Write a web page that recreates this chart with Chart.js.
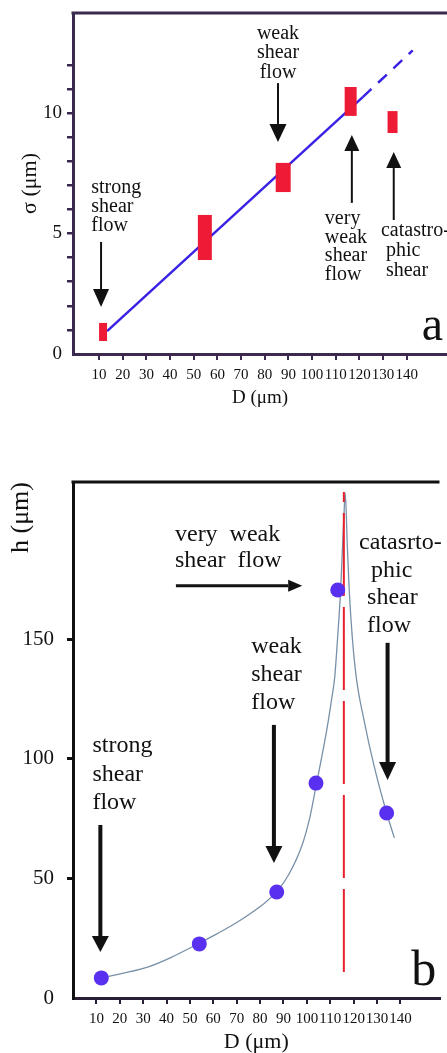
<!DOCTYPE html>
<html>
<head>
<meta charset="utf-8">
<script src="https://cdn.jsdelivr.net/npm/chart.js@4.4.1/dist/chart.umd.min.js"></script>
<style>
  body { margin: 0; background: #fff; width: 447px; height: 1053px; overflow: hidden; }
  .box { position: absolute; left: 0; width: 447px; }
</style>
</head>
<body>
<div class="box" style="top:0;height:420px"><canvas id="sigma-chart"></canvas></div>
<div class="box" style="top:440px;height:613px"><canvas id="h-chart"></canvas></div>
<script>
// shared x ticks (D, um)
const dTicks = [10, 20, 30, 40, 50, 60, 70, 80, 90, 100, 110, 120, 130, 140];

// (a) sigma vs D -- red bars are the measured spread
const sigmaD = [11.7, 54.7, 87.8, 116.3, 134.0];
const sigmaLow = [0.54, 3.9, 6.72, 9.88, 9.17];
const sigmaHigh = [1.29, 5.77, 7.93, 11.08, 10.08];
const sigmaFitD = [13.4, 121.4];
const sigmaFitY = [0.95, 10.66];
const sigmaExtD = [121.4, 142.5];
const sigmaExtY = [10.66, 12.6];
const sigmaTicks = [0, 1, 2, 3, 4, 5, 6, 7, 8, 9, 10, 11, 12];

// (b) h vs D
const hD = [12.1, 54.0, 87.1, 103.9, 113.2, 134.1];
const hVal = [8.4, 22.6, 44.3, 89.8, 170.5, 77.3];
// fitted curve
const curveD = [12.1, 32.2, 42.0, 53.2, 61.5, 71.2, 81.3, 86.7, 92.2, 98.0, 101.4, 103.9, 106.4, 108.5, 110.6,
                111.9, 113.1, 114.4, 115.2, 116.0, 116.4, 117.3, 118.1, 119.4, 121.1, 124.4, 128.6, 134.1, 137.4];
const curveH = [8.4, 13.0, 17.0, 22.5, 26.8, 32.3, 39.2, 44.0, 51.5, 64.0, 76.0, 88.5, 101.0, 112.0, 125.0,
                134.0, 150.0, 170.0, 188.0, 205.0, 211.0, 188.5, 170.5, 150.9, 134.1, 116.2, 97.5, 77.3, 66.9];
const peakD = [115.8, 115.8];
const peakH = [10.9, 211.4];
const hTicks = [0, 50, 100, 150];

// styling
const barWidths = [8, 14, 15, 12, 10];
const RED = '#ee1b36';
const BLUE = '#3a22e4';
const serif = '"Liberation Serif", "DejaVu Serif", serif';

const pts = (xs, ys) => xs.map((x, i) => ({x: x, y: ys[i]}));

// text + arrows + top frame line
const notesPlugin = {
  id: 'notes',
  afterDatasetsDraw(chart, args, opts) {
    const {ctx, chartArea, scales} = chart;
    const xs = scales.x, ys = scales.y;
    ctx.save();
    // top frame
    ctx.strokeStyle = opts.frame;
    ctx.lineWidth = 3;
    ctx.beginPath();
    ctx.moveTo(chartArea.left - 1.5, chartArea.top);
    ctx.lineTo(chartArea.right, chartArea.top);
    ctx.stroke();

    ctx.fillStyle = '#111';
    ctx.strokeStyle = '#111';
    (opts.arrows || []).forEach(a => {
      const x1 = xs.getPixelForValue(a.x1), y1 = ys.getPixelForValue(a.y1);
      const x2 = xs.getPixelForValue(a.x2), y2 = ys.getPixelForValue(a.y2);
      const ang = Math.atan2(y2 - y1, x2 - x1);
      const bx = x2 - Math.cos(ang) * a.hl, by = y2 - Math.sin(ang) * a.hl;
      ctx.lineWidth = a.w;
      ctx.beginPath();
      ctx.moveTo(x1, y1);
      ctx.lineTo(bx, by);
      ctx.stroke();
      const px = -Math.sin(ang) * a.hw / 2, py = Math.cos(ang) * a.hw / 2;
      ctx.beginPath();
      ctx.moveTo(x2, y2);
      ctx.lineTo(bx + px, by + py);
      ctx.lineTo(bx - px, by - py);
      ctx.closePath();
      ctx.fill();
    });
    (opts.texts || []).forEach(t => {
      ctx.font = t.size + 'px ' + serif;
      ctx.textAlign = t.align || 'left';
      ctx.textBaseline = t.baseline || 'middle';
      const x = xs.getPixelForValue(t.x), y = ys.getPixelForValue(t.y);
      t.lines.forEach((line, i) => {
        const dx = t.dx ? t.dx[i] : 0;
        ctx.fillText(line, x + dx, y + i * (t.lh || 0));
      });
    });
    ctx.restore();
  }
};

function xAxis(min, max, color, h, titleSize, titlePad) {
  return {
    type: 'linear', min: min, max: max,
    afterBuildTicks: s => { s.ticks = dTicks.map(v => ({value: v})); },
    afterFit: s => { s.height = h; s.paddingLeft = 0; s.paddingRight = 0; },
    border: {color: color, width: 3},
    grid: {drawOnChartArea: false, drawTicks: true, tickLength: 6, lineWidth: 2, color: color},
    ticks: {autoSkip: false, maxRotation: 0, minRotation: 0, padding: 6, color: '#111',
            font: {family: serif, size: 15}},
    title: {display: true, text: 'D (μm)', color: '#111', padding: {top: 0, bottom: titlePad},
            font: {family: serif, size: titleSize, lineHeight: 1}}
  };
}

new Chart(document.getElementById('sigma-chart'), {
  type: 'line',
  data: {
    datasets: sigmaD.map((d, i) => ({
      data: pts([d, d], [sigmaLow[i], sigmaHigh[i]]),
      borderColor: RED, borderWidth: barWidths[i], borderCapStyle: 'butt', pointRadius: 0
    })).concat([
      {data: pts(sigmaFitD, sigmaFitY), borderColor: BLUE, borderWidth: 2.5, pointRadius: 0},
      {data: pts(sigmaExtD, sigmaExtY), borderColor: BLUE, borderWidth: 2.5, borderDash: [12, 9],
       pointRadius: 0}
    ])
  },
  options: {
    responsive: true, maintainAspectRatio: false, animation: false,
    layout: {padding: {top: 13, left: 0, right: 0, bottom: 0}},
    plugins: {
      legend: {display: false}, tooltip: {enabled: false},
      notes: {
        frame: '#3b2a4d',
        texts: [
          {lines: ['weak', 'shear', 'flow'], x: 85.6, y: 13.3, align: 'center', lh: 19.5, size: 20},
          {lines: ['strong', 'shear', 'flow'], x: 6.7, y: 6.9, lh: 19, size: 20},
          {lines: ['very', 'weak', 'shear', 'flow'], x: 105.4, y: 5.6, lh: 18.5, size: 20},
          {lines: ['catastro-', 'phic', 'shear'], dx: [0, 5, 5], x: 129.1, y: 5.1, lh: 20, size: 20},
          {lines: ['a'], x: 146.3, y: 0.6, baseline: 'alphabetic', size: 48}
        ],
        arrows: [
          {x1: 85.6, y1: 11.24, x2: 85.6, y2: 8.8, w: 2, hl: 18, hw: 17},
          {x1: 10.85, y1: 4.65, x2: 10.85, y2: 1.95, w: 2, hl: 18, hw: 16},
          {x1: 116.8, y1: 6.27, x2: 116.8, y2: 9.09, w: 2, hl: 16, hw: 15},
          {x1: 134.5, y1: 5.56, x2: 134.5, y2: 8.38, w: 2, hl: 16, hw: 15}
        ]
      }
    },
    scales: {
      x: xAxis(-1, 157, '#3b2a4d', 66, 19, 12),
      y: {
        type: 'linear', min: 0, max: 14.15,
        afterBuildTicks: s => { s.ticks = sigmaTicks.map(v => ({value: v})); },
        afterFit: s => { s.width = 73; s.paddingTop = 0; s.paddingBottom = 0; },
        border: {color: '#3b2a4d', width: 3},
        grid: {drawOnChartArea: false, drawTicks: true, tickLength: 6, lineWidth: 2.5,
               color: c => c.tick && c.tick.value === 0 ? 'rgba(0,0,0,0)' : '#3b2a4d'},
        ticks: {padding: 5, color: '#111', font: {family: serif, size: 19},
                callback: v => (v % 5 === 0 ? String(v) : '')},
        title: {display: true, text: 'σ (μm)', color: '#111', padding: {top: 17, bottom: 0},
                font: {family: serif, size: 22}}
      }
    }
  },
  plugins: [notesPlugin]
});

new Chart(document.getElementById('h-chart'), {
  type: 'line',
  data: {
    datasets: [
      {data: pts(hD, hVal), showLine: false, pointRadius: 7.5, pointBackgroundColor: '#5a30f0',
       pointBorderWidth: 0, borderColor: '#5a30f0'},
      {data: pts(peakD, peakH), borderColor: '#e8202c', borderWidth: 2, borderDash: [83, 11],
       pointRadius: 0},
      {data: pts(curveD, curveH), borderColor: '#7891a8', borderWidth: 1.3, pointRadius: 0,
       cubicInterpolationMode: 'monotone'}
    ]
  },
  options: {
    responsive: true, maintainAspectRatio: false, animation: false,
    layout: {padding: {top: 42, left: 0, right: 0, bottom: 0}},
    plugins: {
      legend: {display: false}, tooltip: {enabled: false},
      notes: {
        frame: '#111',
        texts: [
          {lines: ['very  weak', 'shear  flow'], x: 43.6, y: 193.5, lh: 26, size: 24},
          {lines: ['catasrto-', 'phic', 'shear', 'flow'], dx: [0, 12, 8, 8], x: 122.3, y: 190.1, lh: 27.5, size: 24},
          {lines: ['weak', 'shear', 'flow'], x: 76.2, y: 146.7, lh: 28, size: 24},
          {lines: ['strong', 'shear', 'flow'], x: 8.3, y: 105.3, lh: 28.5, size: 24},
          {lines: ['b'], x: 144.6, y: 5.4, baseline: 'alphabetic', size: 50}
        ],
        arrows: [
          {x1: 44.0, y1: 172.2, x2: 98.0, y2: 172.2, w: 3, hl: 14, hw: 12},
          {x1: 134.5, y1: 148.4, x2: 134.5, y2: 91.1, w: 4, hl: 18, hw: 17},
          {x1: 85.9, y1: 114.1, x2: 85.9, y2: 56.4, w: 4, hl: 17, hw: 17},
          {x1: 11.7, y1: 72.3, x2: 11.7, y2: 19.2, w: 4, hl: 16, hw: 17}
        ]
      }
    },
    scales: {
      x: xAxis(0, 156.7, '#2a1d36', 55, 22, 0),
      y: {
        type: 'linear', min: 0, max: 215.6,
        afterBuildTicks: s => { s.ticks = hTicks.map(v => ({value: v})); },
        afterFit: s => { s.width = 73; s.paddingTop = 0; s.paddingBottom = 0; },
        border: {color: '#111', width: 3},
        grid: {drawOnChartArea: false, drawTicks: true, tickLength: 6, lineWidth: 3,
               color: c => c.tick && c.tick.value === 0 ? 'rgba(0,0,0,0)' : '#111'},
        ticks: {padding: 13, color: '#111', font: {family: serif, size: 21}},
        title: {display: true, text: 'h (μm)', color: '#111', align: 'end', padding: {top: 6, bottom: 0},
                font: {family: serif, size: 26}}
      }
    }
  },
  plugins: [notesPlugin]
});
</script>
</body>
</html>
